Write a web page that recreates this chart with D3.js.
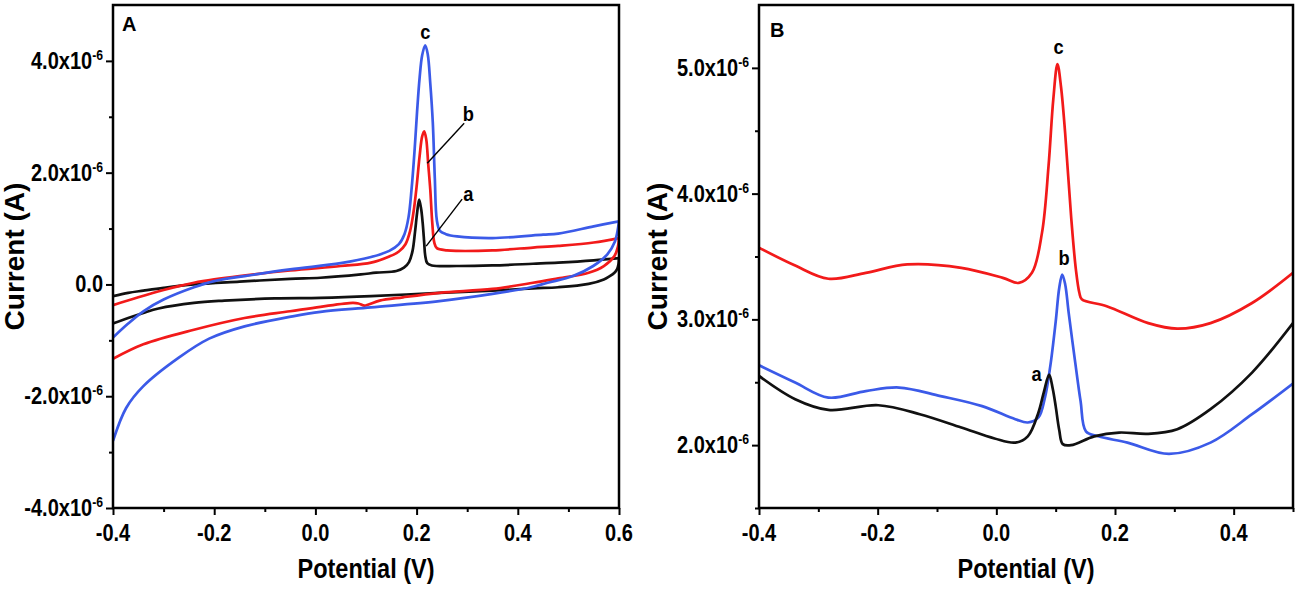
<!DOCTYPE html>
<html>
<head>
<meta charset="utf-8">
<script src="https://cdn.jsdelivr.net/npm/d3@7"></script>
<style>
  body { margin: 0; background: #fff; }
  text { font-family: "Liberation Sans", Arial, sans-serif; font-weight: bold; fill: #000; }
</style>
</head>
<body>
<svg id="chart" width="1299" height="592"></svg>
<script>
// all currents in units of 1e-6 A, potentials in V

// panel A - cyclic voltammograms, forward and reverse sweeps
const cvA_a_fwd = [[-0.40,-0.21],[-0.37,-0.15],[-0.34,-0.11],[-0.30,-0.06],[-0.24,0.00],[-0.15,0.05],[-0.05,0.10],[0.01,0.12],[0.09,0.18],[0.12,0.21],[0.16,0.24],[0.175,0.30],[0.185,0.40],[0.192,0.60],[0.197,0.95],[0.201,1.28],[0.205,1.52],[0.209,1.35],[0.212,1.10],[0.215,0.75],[0.217,0.52],[0.221,0.38],[0.23,0.34],[0.28,0.33],[0.35,0.34],[0.43,0.37],[0.48,0.39],[0.55,0.43],[0.60,0.47]]
const cvA_a_rev = [[0.60,0.47],[0.599,0.36],[0.596,0.27],[0.591,0.21],[0.58,0.14],[0.57,0.09],[0.54,0.01],[0.48,-0.05],[0.43,-0.07],[0.35,-0.11],[0.245,-0.15],[0.11,-0.21],[0.01,-0.24],[-0.08,-0.25],[-0.18,-0.29],[-0.24,-0.33],[-0.31,-0.43],[-0.34,-0.51],[-0.37,-0.60],[-0.40,-0.70]]
const cvA_b_fwd = [[-0.40,-0.37],[-0.35,-0.23],[-0.30,-0.10],[-0.27,-0.03],[-0.24,0.03],[-0.20,0.09],[-0.15,0.15],[-0.05,0.25],[0.05,0.33],[0.11,0.39],[0.146,0.50],[0.165,0.59],[0.178,0.72],[0.187,0.95],[0.194,1.30],[0.200,1.75],[0.206,2.30],[0.211,2.65],[0.215,2.74],[0.219,2.60],[0.223,2.15],[0.227,1.70],[0.231,1.10],[0.235,0.75],[0.24,0.65],[0.26,0.61],[0.28,0.60],[0.35,0.61],[0.43,0.66],[0.48,0.69],[0.55,0.75],[0.60,0.83]]
const cvA_b_rev = [[0.60,0.83],[0.598,0.68],[0.591,0.51],[0.57,0.33],[0.54,0.21],[0.48,0.11],[0.43,0.03],[0.35,-0.08],[0.245,-0.15],[0.173,-0.23],[0.127,-0.29],[0.105,-0.36],[0.097,-0.38],[0.085,-0.34],[0.074,-0.33],[0.01,-0.40],[-0.05,-0.48],[-0.14,-0.60],[-0.24,-0.81],[-0.34,-1.07],[-0.40,-1.33]]
const cvA_c_fwd = [[-0.40,-0.95],[-0.37,-0.70],[-0.34,-0.48],[-0.30,-0.27],[-0.24,-0.05],[-0.20,0.06],[-0.14,0.15],[-0.05,0.27],[0.05,0.38],[0.11,0.49],[0.146,0.60],[0.165,0.72],[0.176,0.90],[0.184,1.20],[0.190,1.70],[0.196,2.40],[0.201,3.10],[0.206,3.70],[0.211,4.10],[0.217,4.28],[0.222,4.12],[0.227,3.60],[0.232,2.90],[0.236,1.90],[0.240,1.15],[0.246,0.96],[0.258,0.90],[0.28,0.86],[0.35,0.83],[0.45,0.89],[0.48,0.91],[0.55,1.04],[0.60,1.13]]
const cvA_c_rev = [[0.60,1.13],[0.597,0.95],[0.592,0.77],[0.577,0.54],[0.549,0.33],[0.509,0.15],[0.459,0.03],[0.426,-0.05],[0.35,-0.17],[0.245,-0.30],[0.11,-0.41],[0.01,-0.49],[-0.045,-0.57],[-0.14,-0.75],[-0.21,-0.97],[-0.27,-1.31],[-0.34,-1.82],[-0.374,-2.21],[-0.40,-2.80]]

// panel B - single sweeps
const swB_a = [[-0.40,2.55],[-0.339,2.365],[-0.283,2.28],[-0.199,2.317],[-0.129,2.246],[-0.059,2.14],[-0.003,2.053],[0.032,2.02],[0.053,2.07],[0.071,2.26],[0.080,2.42],[0.089,2.56],[0.095,2.45],[0.100,2.31],[0.106,2.12],[0.112,2.008],[0.126,2.00],[0.165,2.07],[0.207,2.10],[0.256,2.09],[0.305,2.127],[0.361,2.286],[0.431,2.577],[0.50,2.97]]
const swB_b = [[-0.40,2.635],[-0.34,2.50],[-0.283,2.378],[-0.22,2.43],[-0.164,2.458],[-0.094,2.39],[-0.024,2.31],[0.032,2.206],[0.053,2.18],[0.071,2.22],[0.082,2.38],[0.091,2.63],[0.100,2.98],[0.106,3.25],[0.111,3.357],[0.116,3.28],[0.122,3.05],[0.133,2.656],[0.142,2.35],[0.151,2.11],[0.172,2.07],[0.221,2.02],[0.291,1.93],[0.361,2.02],[0.431,2.246],[0.50,2.49]]
const swB_c = [[-0.40,3.57],[-0.34,3.43],[-0.283,3.323],[-0.22,3.37],[-0.15,3.437],[-0.059,3.41],[0.011,3.33],[0.038,3.29],[0.060,3.37],[0.077,3.69],[0.088,4.22],[0.096,4.75],[0.103,5.03],[0.109,4.85],[0.116,4.48],[0.126,3.82],[0.134,3.40],[0.140,3.21],[0.144,3.16],[0.186,3.105],[0.256,2.97],[0.305,2.926],[0.361,2.97],[0.431,3.13],[0.50,3.37]]

// ticks
const ticksA_x = [-0.4, -0.2, 0, 0.2, 0.4, 0.6]
const labelsA_x = ['-0.4', '-0.2', '0.0', '0.2', '0.4', '0.6']
const minorA_x = [-0.3, -0.1, 0.1, 0.3, 0.5]
const ticksA_y = [-4, -2, 0, 2, 4]
const labelsA_y = ['-4.0x10', '-2.0x10', '0.0', '2.0x10', '4.0x10']
const minorA_y = [-3, -1, 1, 3]

const ticksB_x = [-0.4, -0.2, 0, 0.2, 0.4]
const labelsB_x = ['-0.4', '-0.2', '0.0', '0.2', '0.4']
const minorB_x = [-0.3, -0.1, 0.1, 0.3, 0.5]
const ticksB_y = [2, 3, 4, 5]
const labelsB_y = ['2.0x10', '3.0x10', '4.0x10', '5.0x10']
const minorB_y = [1.5, 2.5, 3.5, 4.5]

// curve labels and callout lines [v, I]
const marksA = [{t: 'c', p: [0.217, 4.52]}, {t: 'b', p: [0.302, 3.05]}, {t: 'a', p: [0.302, 1.63]}]
const leadersA = [[[0.294, 2.885], [0.221, 2.17]], [[0.290, 1.526], [0.219, 0.685]]]
const marksB = [{t: 'c', p: [0.105, 5.17]}, {t: 'b', p: [0.114, 3.49]}, {t: 'a', p: [0.068, 2.57]}]

const black = '#111111', red = '#f21a1a', blue = '#3b5ae8'
const squeeze = 0.87   // the original lettering is narrow

const svg = d3.select('#chart')

// horizontally squeezed text anchored at (x, y)
function narrowText(parent, x, y, size, anchor, str) {
    return parent.append('g')
        .attr('transform', `translate(${x},${y}) scale(${squeeze},1)`)
        .append('text')
        .attr('text-anchor', anchor)
        .attr('font-size', size)
        .text(str)
}

function drawPanel(o) {
    var g = svg.append('g')
    var x = d3.scaleLinear().domain(o.xDomain).range([o.left, o.right])
    var y = d3.scaleLinear().domain(o.yDomain).range([o.bottom, o.top])

    // minor ticks
    var xm = g.append('g').attr('transform', `translate(0,${o.bottom})`)
        .call(d3.axisBottom(x).tickValues(o.xMinor).tickSize(4).tickFormat(''))
    var ym = g.append('g').attr('transform', `translate(${o.left},0)`)
        .call(d3.axisLeft(y).tickValues(o.yMinor).tickSize(4).tickFormat(''))

    // major ticks
    var xa = g.append('g').attr('transform', `translate(0,${o.bottom})`)
        .call(d3.axisBottom(x).tickValues(o.xTicks).tickSize(7).tickFormat(''))
    var ya = g.append('g').attr('transform', `translate(${o.left},0)`)
        .call(d3.axisLeft(y).tickValues(o.yTicks).tickSize(7).tickFormat(''))

    ;[xm, ym, xa, ya].forEach(function (a) {
        a.select('.domain').remove()
        a.selectAll('line').attr('stroke', '#000').attr('stroke-width', 2)
    })

    // x tick labels
    o.xTicks.forEach(function (d, i) {
        narrowText(g, x(d), o.bottom + 33, 23, 'middle', o.xLabels[i])
    })

    // y tick labels with the exponent as superscript
    o.yTicks.forEach(function (d, i) {
        var t = narrowText(g, o.left - 10, y(d) + 8, 23, 'end', o.yLabels[i])
        if (d !== 0) {
            t.append('tspan').attr('dy', -9).attr('font-size', 14).text('-6')
        }
    })

    // curves
    var line = d3.line()
        .x(d => x(d[0]))
        .y(d => y(d[1]))
        .curve(d3.curveCatmullRom.alpha(0.5))

    var clip = g.append('clipPath').attr('id', 'clip' + o.name)
    clip.append('rect').attr('x', o.left).attr('y', o.top)
        .attr('width', o.right - o.left).attr('height', o.bottom - o.top)
    var plot = g.append('g').attr('clip-path', `url(#clip${o.name})`)
    o.curves.forEach(function (c) {
        plot.append('path')
            .attr('d', line(c.data))
            .attr('fill', 'none')
            .attr('stroke', c.color)
            .attr('stroke-width', 2.7)
            .attr('stroke-linejoin', 'round')
    })

    // leader lines and curve labels
    o.leaders.forEach(function (l) {
        g.append('line')
            .attr('x1', x(l[0][0])).attr('y1', y(l[0][1]))
            .attr('x2', x(l[1][0])).attr('y2', y(l[1][1]))
            .attr('stroke', '#000').attr('stroke-width', 1.4)
    })
    o.marks.forEach(function (m) {
        narrowText(g, x(m.p[0]), y(m.p[1]), 21, 'middle', m.t).attr('dy', '0.35em')
    })

    // frame
    g.append('rect')
        .attr('x', o.left).attr('y', o.top)
        .attr('width', o.right - o.left).attr('height', o.bottom - o.top)
        .attr('fill', 'none').attr('stroke', '#000').attr('stroke-width', 2.5)

    // panel letter
    g.append('text').attr('x', o.left + o.letterDx).attr('y', o.top + o.letterDy)
        .attr('font-size', 20).text(o.name)

    // axis titles
    narrowText(g, (o.left + o.right) / 2, 578, 27, 'middle', 'Potential (V)')
    g.append('text')
        .attr('transform', `translate(${o.titleX},${(o.top + o.bottom) / 2}) rotate(-90)`)
        .attr('text-anchor', 'middle').attr('font-size', 28)
        .text('Current (A)')
}

drawPanel({
    name: 'A', left: 113, right: 619, top: 5, bottom: 508, titleX: 24,
    letterDx: 9, letterDy: 26,
    xDomain: [-0.4, 0.6], yDomain: [-4, 5],
    xTicks: ticksA_x, xLabels: labelsA_x, xMinor: minorA_x,
    yTicks: ticksA_y, yLabels: labelsA_y, yMinor: minorA_y,
    curves: [
        {data: cvA_a_fwd, color: black}, {data: cvA_a_rev, color: black},
        {data: cvA_b_fwd, color: red}, {data: cvA_b_rev, color: red},
        {data: cvA_c_fwd, color: blue}, {data: cvA_c_rev, color: blue}
    ],
    marks: marksA, leaders: leadersA
})

drawPanel({
    name: 'B', left: 759, right: 1293, top: 5, bottom: 508, titleX: 667,
    letterDx: 11, letterDy: 32,
    xDomain: [-0.4, 0.5], yDomain: [1.5, 5.5],
    xTicks: ticksB_x, xLabels: labelsB_x, xMinor: minorB_x,
    yTicks: ticksB_y, yLabels: labelsB_y, yMinor: minorB_y,
    curves: [
        {data: swB_c, color: red}, {data: swB_b, color: blue}, {data: swB_a, color: black}
    ],
    marks: marksB, leaders: []
})
</script>
</body>
</html>
